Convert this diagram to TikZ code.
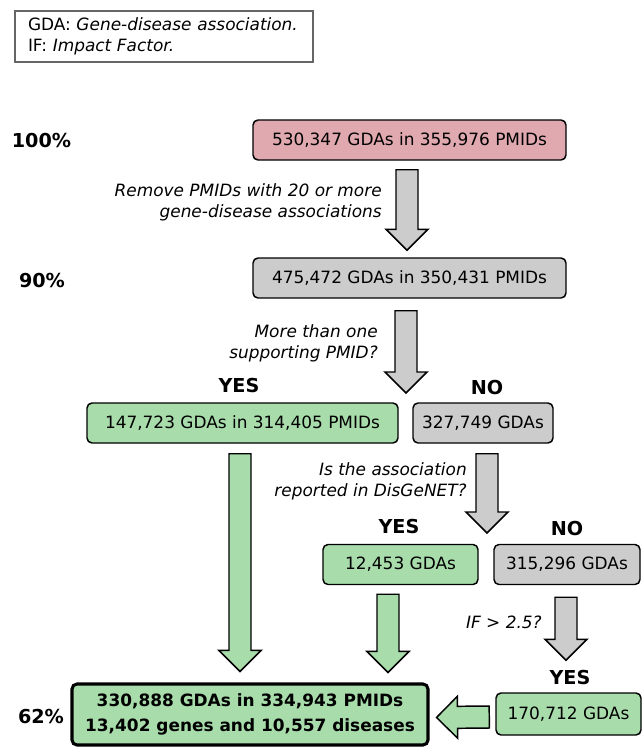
\documentclass[tikz,border=0pt]{standalone}
\usepackage{fontspec}
\setmainfont{DejaVu Sans}
\usetikzlibrary{calc}
\definecolor{rose}{HTML}{DFA9AF}
\definecolor{mint}{HTML}{A8DCAB}
\definecolor{ash}{HTML}{CCCCCC}
\definecolor{frame}{HTML}{666666}
% fat arrow with outline: #1 fill, #2 tail, #3 tip
\newcommand\blockarrow[3]{%
  \coordinate (ba-s) at #2;
  \coordinate (ba-e) at #3;
  \coordinate (ba-h) at ($(ba-e)!15.75pt!(ba-s)$);
  \filldraw[line width=1.1pt,fill=#1]
    ($(ba-s)!8.25pt!90:(ba-e)$) -- ($(ba-h)!8.25pt!90:(ba-e)$) -- ($(ba-h)!15.75pt!90:(ba-e)$)
    -- (ba-e) -- ($(ba-h)!15.75pt!-90:(ba-e)$) -- ($(ba-h)!8.25pt!-90:(ba-e)$)
    -- ($(ba-s)!8.25pt!-90:(ba-e)$) -- cycle;}

\begin{document}
\begin{tikzpicture}[x=0.75pt,y=-0.75pt,
    every node/.style={font=\fontsize{12.7}{15.75}\selectfont},
    box/.style={draw,rounded corners=3.75pt,line width=1.1pt,minimum height=30pt,inner sep=0pt},
    tag/.style={font=\fontsize{14.4}{17}\selectfont\bfseries,inner sep=0pt},
    note/.style={font=\fontsize{12.7}{15.75}\selectfont\itshape,align=right,anchor=east,inner sep=0pt},
    legend/.style={draw=frame,line width=1.5pt,anchor=north west,text width=204pt,inner xsep=9.75pt,
      minimum height=38.25pt,align=left}]
  \useasboundingbox (0,0) rectangle (643,749);
  \node[legend] (key) at (14,10) {GDA: \textit{Gene-disease association.}\\IF: \textit{Impact Factor.}};
  % boxes
  \node[box,fill=rose,minimum width=234.75pt] (all) at (409.5,140) {530,347 GDAs in 355,976 PMIDs};
  \node[box,fill=ash,minimum width=234.75pt] (kept) at (409.5,278) {475,472 GDAs in 350,431 PMIDs};
  \node[box,fill=mint,minimum width=233.25pt] (multi) at (242.5,423) {147,723 GDAs in 314,405 PMIDs};
  \node[box,fill=ash,minimum width=105pt] (single) at (483,423) {327,749 GDAs};
  \node[box,fill=mint,minimum width=116.25pt] (known) at (400.5,564.5) {12,453 GDAs};
  \node[box,fill=ash,minimum width=109.5pt] (unknown) at (567,564.5) {315,296 GDAs};
  \node[box,fill=mint,minimum width=108.75pt,minimum height=31.5pt] (impact) at (568.5,714) {170,712 GDAs};
  \node[box,fill=mint,line width=2.3pt,minimum width=267pt,minimum height=45.75pt,align=center,
    font=\fontsize{12.7}{18.75}\selectfont\bfseries] (final) at (250,714.5)
    {330,888 GDAs in 334,943 PMIDs\\13,402 genes and 10,557 diseases};
  % percentages and branch labels
  \node[tag] (p100) at (41.5,141) {100\%};
  \node[tag] (p90) at (42,281) {90\%};
  \node[tag] (p62) at (41,717) {62\%};
  \node[tag] (yes1) at (239,386) {YES};
  \node[tag] (no1) at (487,388) {NO};
  \node[tag] (yes2) at (399,527) {YES};
  \node[tag] (no2) at (567,529) {NO};
  \node[tag] (yes3) at (570,678) {YES};
  % questions
  \node[note] (rmnote) at (382,202.5) {Remove PMIDs with 20 or more\\gene-disease associations};
  \node[note] (mtnote) at (378,343) {More than one\\supporting PMID?};
  \node[note] (dgnote) at (467,481) {Is the association\\reported in DisGeNET?};
  \node[note] (ifnote) at (542,622) {IF > 2.5?};
  % arrows
  \coordinate (fork1) at (406,393);
  \coordinate (fork2) at (487,533);
  \blockarrow{ash}{($(all.south)+(-2.5,9)$)}{($(kept.north)+(-2.5,-7)$)}
  \blockarrow{ash}{($(fork1 |- kept.south)+(0,12)$)}{(fork1)}
  \blockarrow{mint}{($(multi.south)+(-2.5,10)$)}{($(multi.south |- final.north)+(-2.5,-11)$)}
  \blockarrow{ash}{($(fork2 |- single.south)+(0,10)$)}{(fork2)}
  \blockarrow{mint}{($(known.south)+(-12.5,9)$)}{($(known.south |- final.north)+(-12.5,-10)$)}
  \blockarrow{ash}{($(unknown.south)+(-1,12)$)}{($(unknown.south |- impact.north)+(-1,-32)$)}
  \blockarrow{mint}{($(impact.west)+(-6,3)$)}{($(final.east)+(7,3)$)}
\end{tikzpicture}
\end{document}
